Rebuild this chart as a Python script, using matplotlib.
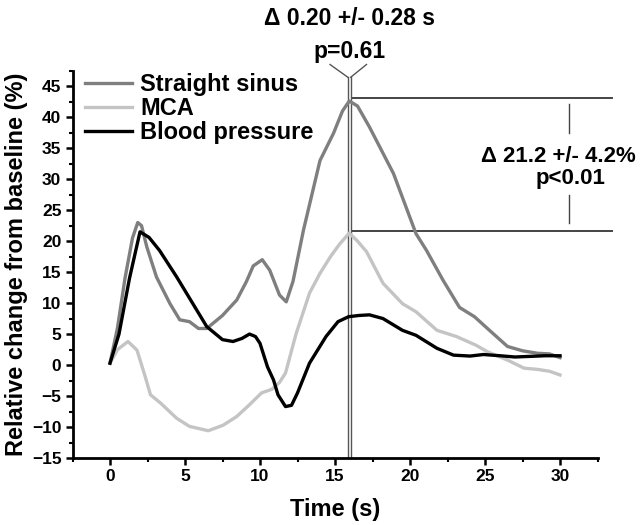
import matplotlib
matplotlib.use("Agg")
import matplotlib.pyplot as plt
from matplotlib.ticker import MultipleLocator

plt.rcParams['font.family'] = ['Liberation Sans', 'DejaVu Sans']
plt.rcParams['font.weight'] = 'bold'

# Data
t_ss = [0, 0.5, 1.0, 1.5, 1.85, 2.1, 2.45, 3.1, 4.0, 4.65, 5.3, 5.9, 6.45, 7.5, 8.45,
        9.1, 9.55, 10.15, 10.65, 11.3, 11.75, 12.2, 12.9, 14.0, 14.9, 15.5, 15.95, 16.5,
        17.3, 18.9, 20.4, 21.1, 22.2, 23.3, 24.3, 25.3, 26.5, 27.5, 28.5, 29.3, 30.0]
y_ss = [0.3, 6, 14, 20.5, 23.0, 22.5, 19.1, 14.2, 9.9, 7.3, 7.0, 5.9, 5.9, 8.0, 10.5,
        13.5, 16.0, 17.0, 15.3, 11.3, 10.2, 13.5, 21.8, 33.0, 37.4, 41.0, 42.6, 41.8,
        38.4, 30.9, 21.2, 18.5, 13.7, 9.3, 7.8, 5.6, 3.0, 2.3, 1.9, 1.8, 1.2]

t_mca = [0, 0.5, 1.2, 1.8, 2.3, 2.7, 3.4, 4.45, 5.3, 6.55, 7.55, 8.45, 9.3, 10.1, 10.8,
         11.3, 11.7, 12.4, 13.3, 14.0, 14.7, 15.3, 15.95, 16.5, 17.1, 18.2, 19.5, 20.4,
         21.8, 23.1, 24.4, 25.2, 26.5, 27.6, 28.5, 29.3, 30.0]
y_mca = [0.3, 2.5, 3.8, 2.4, -1.5, -4.8, -6.2, -8.6, -9.9, -10.6, -9.7, -8.3, -6.4, -4.5, -3.9,
         -2.8, -1.3, 5.0, 11.6, 14.8, 17.5, 19.5, 21.3, 20.0, 18.3, 13.2, 9.9, 8.6,
         5.6, 4.6, 3.2, 2.1, 0.8, -0.5, -0.7, -1.0, -1.6]

t_bp = [0, 0.6, 1.3, 2.0, 2.6, 3.3, 4.45, 5.5, 6.45, 7.5, 8.2, 8.8, 9.3, 9.7, 10.0, 10.5,
        10.9, 11.2, 11.7, 12.1, 12.5, 13.3, 14.4, 15.2, 15.9, 16.6, 17.3, 18.2, 19.5,
        20.4, 21.8, 22.9, 24.0, 24.9, 26.0, 27.0, 28.0, 29.0, 30.0]
y_bp = [0.3, 5.0, 14.0, 21.5, 20.6, 18.5, 14.2, 10.0, 6.2, 4.1, 3.8, 4.3, 5.0, 4.6, 3.5, -0.3,
        -2.4, -4.8, -6.7, -6.5, -4.5, 0.3, 4.6, 7.0, 7.8, 8.0, 8.1, 7.5, 5.6,
        4.8, 2.7, 1.6, 1.45, 1.7, 1.5, 1.3, 1.4, 1.5, 1.5]

labels = ["Straight sinus", "MCA", "Blood pressure"]
colors = ["#7f7f7f", "#c4c4c4", "#000000"]

# peak markers / annotation values
peak_t = [15.85, 16.05]
peak_y = [43.1, 21.7]

fig = plt.figure(figsize=(6.44, 5.25), dpi=100)
ax = fig.add_axes([72.5 / 644, 67 / 525, 525 / 644, 387.3 / 525])

for t, y, lab, c in zip([t_ss, t_mca, t_bp], [y_ss, y_mca, y_bp], labels, colors):
    ax.plot(t, y, color=c, lw=2.4, label=lab, solid_joinstyle='round', zorder=3)

# double vertical line at peak times with the "Y" connector
for px in peak_t:
    ax.plot([px, px], [-15, 46.45], color="#555555", lw=1.0, clip_on=False, zorder=2)
ax.plot([14.67, peak_t[0]], [48.5, 46.45], color="#555555", lw=1.0, clip_on=False)
ax.plot([17.1, peak_t[1]], [48.5, 46.45], color="#555555", lw=1.0, clip_on=False)
ax.text(16.0, 56.0, "\u0394 0.20 +/- 0.28 s", ha='center', va='center', fontsize=16.5,
        fontweight='bold', clip_on=False)
ax.text(16.0, 50.6, "p=0.61", ha='center', va='center', fontsize=16.5,
        fontweight='bold', clip_on=False)

# horizontal lines at the two peaks
for py in peak_y:
    ax.plot([16.2, 33.45], [py, py], color="#444444", lw=1.4, clip_on=False)
ax.plot([30.6, 30.6], [42.1, 37.5], color="#444444", lw=1.0, clip_on=False)
ax.plot([30.6, 30.6], [27.5, 22.85], color="#444444", lw=1.0, clip_on=False)
ax.text(29.9, 33.6, "\u0394 21.2 +/- 4.2%", ha='center', va='center', fontsize=16,
        fontweight='bold', clip_on=False)
ax.text(30.67, 30.1, "p<0.01", ha='center', va='center', fontsize=16,
        fontweight='bold', clip_on=False)

ax.set_xlim(-2.5, 32.5)
ax.set_ylim(-15, 47.5)
ax.xaxis.set_major_locator(MultipleLocator(5))
ax.xaxis.set_minor_locator(MultipleLocator(2.5))
ax.yaxis.set_major_locator(MultipleLocator(5))
ax.yaxis.set_minor_locator(MultipleLocator(2.5))
ax.set_xticks([0, 5, 10, 15, 20, 25, 30])
ax.set_yticks(list(range(-15, 50, 5)))
ax.tick_params(which='major', length=5, width=1.8, labelsize=12.5, pad=3)
ax.tick_params(which='minor', length=3, width=1.5)
for lab in ax.get_xticklabels() + ax.get_yticklabels():
    lab.set_fontweight('bold')

for side in ['top', 'right']:
    ax.spines[side].set_visible(False)
for side in ['left', 'bottom']:
    ax.spines[side].set_linewidth(2.0)

ax.set_xlabel("Time (s)", fontsize=17, fontweight='bold', labelpad=10)
ax.set_ylabel("Relative change from baseline (%)", fontsize=17, fontweight='bold', labelpad=3)

ax.legend(loc='upper left', bbox_to_anchor=(85 / 644, 1 - 73 / 525),
          bbox_transform=fig.transFigure, frameon=False,
          handlelength=2.0, handletextpad=0.35, labelspacing=0.05,
          borderpad=0, borderaxespad=0, prop={'weight': 'bold', 'size': 17})

fig.savefig("out.png", dpi=100)
